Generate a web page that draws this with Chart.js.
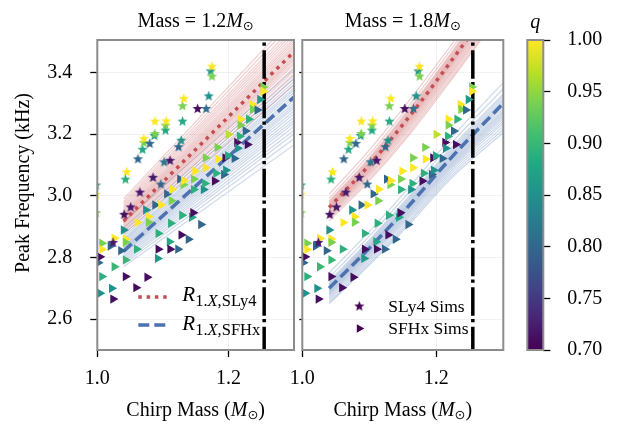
<!DOCTYPE html>
<html>
<head>
<meta charset="utf-8">
<script src="https://cdn.jsdelivr.net/npm/chart.js@4.4.1/dist/chart.umd.min.js"></script>
<style>
  html, body { margin: 0; padding: 0; background: #fff; }
  #wrap { position: relative; width: 618px; height: 424px; overflow: hidden; }
  .box { position: absolute; top: 0; height: 424px; }
  #left { left: 0; width: 300px; }
  #right { left: 270px; width: 240px; }
  #cbar { left: 500px; width: 118px; }
</style>
</head>
<body>
<div id="wrap">
  <div class="box" id="left"><canvas id="c-left"></canvas></div>
  <div class="box" id="right"><canvas id="c-right"></canvas></div>
  <div class="box" id="cbar"><canvas id="c-cbar"></canvas></div>
</div>
<script>
// ---- data ----
const FREQ_MIN = 2.5, FREQ_MAX = 3.505;
const MASS_MIN = 1.0, MASS_MAX = 1.3;
const Q_MIN = 0.70, Q_MAX = 1.00;
const xTicks = [1.0, 1.2];
const yTicks = [2.6, 2.8, 3.0, 3.2, 3.4];
const qTicks = [0.70, 0.75, 0.80, 0.85, 0.90, 0.95, 1.00];
const thresholdMass = 1.2545;

// SLy4 simulations (stars)
const slyMass = [0.998, 0.998, 0.998, 1.024, 1.041, 1.051, 1.045, 1.043, 1.062, 1.065,
  1.069, 1.071, 1.071, 1.080, 1.085, 1.087, 1.088, 1.088, 1.097, 1.102,
  1.104, 1.104, 1.105, 1.111, 1.124, 1.128, 1.130, 1.130, 1.132, 1.153,
  1.166, 1.170, 1.173, 1.175, 1.175];
const slyFreq = [3.035, 3.005, 2.945, 2.849, 2.940, 2.964, 3.078, 3.054, 3.120, 3.012,
  3.151, 3.173, 3.186, 3.170, 3.060, 3.196, 3.202, 3.242, 3.038, 3.110,
  3.213, 3.229, 3.243, 3.115, 3.159, 3.180, 3.242, 3.292, 3.316, 3.283,
  3.283, 3.324, 3.405, 3.388, 3.420];
const slyQ = [0.86, 1.00, 0.94, 0.72, 0.71, 0.72, 1.00, 0.89, 0.80, 0.72,
  0.88, 0.94, 1.00, 0.80, 0.72, 0.86, 0.94, 1.00, 0.80, 0.82,
  0.88, 0.94, 1.00, 0.72, 0.80, 0.85, 0.88, 0.94, 1.00, 0.71,
  0.81, 0.85, 0.86, 0.94, 1.00];

// SFHx simulations (triangles)
const sfhxMass = [1.0015, 1.004, 1.007, 1.007, 1.007, 1.004, 1.020, 1.022, 1.024, 1.026,
  1.026, 1.036, 1.040, 1.043, 1.043, 1.043, 1.043, 1.059, 1.061, 1.060,
  1.074, 1.076, 1.078, 1.078, 1.088, 1.092, 1.093, 1.093, 1.097, 1.106,
  1.110, 1.111, 1.112, 1.113, 1.114, 1.123, 1.126, 1.128, 1.129, 1.131,
  1.132, 1.139, 1.144, 1.146, 1.147, 1.147, 1.149, 1.158, 1.162, 1.164,
  1.165, 1.165, 1.179, 1.181, 1.183, 1.184, 1.193, 1.195, 1.196, 1.199,
  1.200, 1.209, 1.213, 1.214, 1.217, 1.218, 1.218, 1.226, 1.229, 1.231,
  1.236, 1.237, 1.244, 1.248, 1.253, 1.253];
const sfhxFreq = [2.783, 2.802, 2.846, 2.826, 2.738, 2.684, 2.837, 2.700, 2.665, 2.862,
  2.770, 2.822, 2.889, 2.792, 2.738, 2.860, 2.849, 2.702, 2.913, 2.827,
  2.954, 2.736, 2.932, 2.914, 2.970, 2.797, 2.878, 2.827, 2.970, 3.006,
  2.851, 2.827, 2.911, 2.984, 3.021, 2.827, 3.054, 2.873, 2.937, 3.036,
  3.049, 2.859, 2.930, 2.945, 3.020, 3.054, 3.080, 2.907, 3.020, 3.040,
  3.123, 3.091, 3.048, 3.073, 3.157, 3.119, 3.069, 3.123, 3.083, 3.130,
  3.199, 3.121, 3.173, 3.154, 3.193, 3.248, 3.229, 3.210, 3.166, 3.248,
  3.296, 3.280, 3.278, 3.312, 3.353, 3.339];
const sfhxQ = [0.80, 0.71, 0.94, 1.00, 0.89, 0.85, 0.80, 0.85, 0.71, 1.00,
  0.90, 0.80, 0.85, 0.90, 0.71, 1.00, 0.94, 0.71, 1.00, 0.89,
  0.85, 0.71, 1.00, 0.94, 0.80, 0.86, 0.89, 0.71, 1.00, 0.80,
  0.88, 0.71, 0.89, 0.94, 1.00, 0.80, 0.80, 0.71, 0.89, 0.94,
  1.00, 0.80, 0.88, 0.71, 0.89, 0.94, 1.00, 0.80, 0.85, 0.89,
  0.94, 1.00, 0.71, 0.89, 0.94, 1.00, 0.80, 0.71, 0.85, 0.88,
  0.97, 0.80, 0.71, 0.85, 0.89, 1.00, 0.94, 0.80, 0.71, 0.89,
  1.00, 0.94, 0.80, 0.86, 0.94, 1.00];

// Mass = 1.2 panel: fit relations (mean + sample lines)
const leftSly4X = [1.04, 1.30];
const leftSly4Center = [2.918, 3.467];
const leftSly4Lines = [[2.875, 3.360], [2.882, 3.380], [2.890, 3.395], [2.896, 3.405],
  [2.900, 3.415], [2.905, 3.425], [2.909, 3.432], [2.912, 3.440], [2.915, 3.446],
  [2.918, 3.452], [2.922, 3.458], [2.925, 3.465], [2.929, 3.472], [2.932, 3.480],
  [2.936, 3.487], [2.940, 3.495], [2.945, 3.502], [2.950, 3.510], [2.956, 3.520],
  [2.962, 3.530], [2.968, 3.540], [2.975, 3.550], [2.982, 3.565], [2.990, 3.580]];
const leftSfhxX = [1.04, 1.30];
const leftSfhxCenter = [2.820, 3.320];
const leftSfhxLines = [[2.770, 3.165], [2.778, 3.185], [2.785, 3.200], [2.792, 3.212],
  [2.798, 3.225], [2.804, 3.236], [2.810, 3.245], [2.814, 3.255], [2.818, 3.265],
  [2.822, 3.275], [2.825, 3.285], [2.829, 3.292], [2.832, 3.300], [2.836, 3.309],
  [2.840, 3.318], [2.845, 3.326], [2.850, 3.335], [2.855, 3.343], [2.860, 3.350],
  [2.867, 3.360], [2.875, 3.370], [2.885, 3.380], [2.895, 3.390], [2.915, 3.410]];

// Mass = 1.8 panel
const rightSly4X = [1.04, 1.10, 1.16, 1.22, 1.28];
const rightSly4Center = [2.962, 3.100, 3.258, 3.430, 3.610];
const rightSly4Lines = [
  [2.918, 3.048, 3.198, 3.368, 3.545], [2.925, 3.055, 3.205, 3.375, 3.550],
  [2.930, 3.062, 3.213, 3.383, 3.558], [2.935, 3.068, 3.220, 3.390, 3.565],
  [2.939, 3.073, 3.226, 3.396, 3.572], [2.942, 3.078, 3.232, 3.402, 3.578],
  [2.946, 3.082, 3.237, 3.408, 3.584], [2.950, 3.086, 3.242, 3.413, 3.590],
  [2.953, 3.090, 3.246, 3.418, 3.595], [2.956, 3.093, 3.250, 3.422, 3.600],
  [2.959, 3.097, 3.254, 3.426, 3.605], [2.962, 3.100, 3.258, 3.430, 3.610],
  [2.965, 3.104, 3.262, 3.434, 3.615], [2.968, 3.107, 3.266, 3.438, 3.620],
  [2.972, 3.111, 3.270, 3.442, 3.625], [2.975, 3.115, 3.275, 3.447, 3.630],
  [2.979, 3.119, 3.279, 3.452, 3.635], [2.983, 3.124, 3.284, 3.457, 3.640],
  [2.992, 3.134, 3.295, 3.468, 3.650], [3.005, 3.148, 3.310, 3.482, 3.660]];
const rightSfhxX = [1.04, 1.10, 1.16, 1.22, 1.30];
const rightSfhxCenter = [2.700, 2.830, 2.970, 3.118, 3.300];
const rightSfhxLines = [
  [2.650, 2.775, 2.908, 3.052, 3.205], [2.655, 2.780, 2.915, 3.060, 3.215],
  [2.662, 2.787, 2.922, 3.068, 3.225], [2.668, 2.794, 2.930, 3.075, 3.235],
  [2.673, 2.800, 2.936, 3.082, 3.243], [2.678, 2.805, 2.942, 3.088, 3.250],
  [2.682, 2.810, 2.947, 3.093, 3.257], [2.686, 2.814, 2.952, 3.098, 3.263],
  [2.690, 2.818, 2.957, 3.103, 3.269], [2.693, 2.822, 2.961, 3.108, 3.275],
  [2.697, 2.826, 2.966, 3.113, 3.282], [2.700, 2.830, 2.970, 3.118, 3.290],
  [2.704, 2.834, 2.975, 3.123, 3.296], [2.707, 2.838, 2.979, 3.128, 3.302],
  [2.711, 2.842, 2.984, 3.133, 3.309], [2.715, 2.847, 2.989, 3.139, 3.316],
  [2.719, 2.852, 2.994, 3.145, 3.323], [2.724, 2.857, 3.000, 3.151, 3.330],
  [2.735, 2.869, 3.013, 3.165, 3.347], [2.750, 2.884, 3.029, 3.182, 3.367]];

// ---- styling ----
const SERIF = '"Liberation Serif", "DejaVu Serif", serif';
const RED = "#c44e52", BLUE = "#4c72b0";
const RED_BAND = "rgba(196,78,82,0.28)", BLUE_BAND = "rgba(76,114,176,0.28)";
const FRAME = "#8c8c8c";
const VIRIDIS = ["#440154", "#482475", "#414487", "#355f8d", "#2a788e", "#21918c",
  "#22a884", "#44bf70", "#7ad151", "#bddf26", "#fde725"];

Chart.defaults.font.family = SERIF;
Chart.defaults.font.size = 20;
Chart.defaults.color = "#000";
Chart.defaults.animation = false;

function hexRgb(h) { return [1, 3, 5].map((i) => parseInt(h.slice(i, i + 2), 16)); }
function viridis(t) {
  t = Math.min(1, Math.max(0, t)) * (VIRIDIS.length - 1);
  const i = Math.min(VIRIDIS.length - 2, Math.floor(t)), f = t - i;
  const a = hexRgb(VIRIDIS[i]), b = hexRgb(VIRIDIS[i + 1]);
  return `rgb(${a.map((v, k) => Math.round(v + (b[k] - v) * f)).join(",")})`;
}
const qColor = (q) => viridis((q - Q_MIN) / (Q_MAX - Q_MIN));

const starCache = {};
function starImage(color) {   // 实心五角星,Chart.js 自带的 star 只是线条
  if (starCache[color]) return starCache[color];
  const s = 13, c = document.createElement("canvas");
  c.width = c.height = s;
  const g = c.getContext("2d");
  g.fillStyle = color; g.beginPath();
  for (let k = 0; k < 10; k++) {
    const r = k % 2 ? 2.3 : 5.4, a = -Math.PI / 2 + k * Math.PI / 5;
    g.lineTo(s / 2 + r * Math.cos(a), s / 2 + 0.4 + r * Math.sin(a));
  }
  g.closePath(); g.fill();
  return (starCache[color] = c);
}

function drawRich(ctx, parts, x, y, align) {
  let w = 0;
  for (const p of parts) { ctx.font = p.font; w += ctx.measureText(p.t).width; }
  let cx = align === "center" ? x - w / 2 : align === "right" ? x - w : x;
  ctx.textAlign = "left"; ctx.textBaseline = "alphabetic";
  for (const p of parts) {
    ctx.font = p.font;
    ctx.fillText(p.t, cx, y + (p.dy || 0));
    cx += ctx.measureText(p.t).width;
  }
}
const F = (px, style = "") => `${style} ${px}px ${SERIF}`.trim();
const SUN = (px) => `${px}px "DejaVu Sans"`;

// ---- datasets ----
function simsSets() {
  return [
    { type: "scatter", label: "SLy4 Sims", order: 0, clip: 0,
      data: slyMass.map((m, i) => ({ x: m, y: slyFreq[i] })),
      pointStyle: slyQ.map((q) => starImage(qColor(q))),
      backgroundColor: slyQ.map(qColor), pointRadius: 5 },
    { type: "scatter", label: "SFHx Sims", order: 0, clip: 0,
      data: sfhxMass.map((m, i) => ({ x: m, y: sfhxFreq[i] })),
      pointStyle: "triangle", rotation: 90, pointRadius: 5.4, borderWidth: 0,
      backgroundColor: sfhxQ.map(qColor) },
  ];
}
function lineSet(xs, ys, color, width, dash, order, curved) {
  return { type: "line", order, clip: 0, data: xs.map((x, i) => ({ x, y: ys[i] })),
    borderColor: color, borderWidth: width, borderDash: dash || [], pointRadius: 0,
    borderCapStyle: "butt", cubicInterpolationMode: curved ? "monotone" : "default", tension: 0 };
}
function thresholdSet() {
  return { type: "line", order: 1, clip: 0,
    data: [{ x: thresholdMass, y: FREQ_MAX }, { x: thresholdMass, y: FREQ_MIN }],
    borderColor: "#000", borderWidth: 3.5, borderDash: [28.4, 3.2, 3.4, 4.5],
    borderDashOffset: 29.2, pointRadius: 0, borderCapStyle: "butt" };
}

function panelPlugin(massLabel, legendFn, yTitle) {
  return {
    id: "panelText",
    afterDraw(chart) {
      const { ctx, chartArea: a } = chart;
      ctx.save();
      ctx.setLineDash([]);
      ctx.strokeStyle = FRAME; ctx.lineWidth = 2;
      ctx.strokeRect(a.left, a.top, a.right - a.left, a.bottom - a.top);
      ctx.fillStyle = "#000";
      const cx = (a.left + a.right) / 2;
      drawRich(ctx, [{ t: "Mass = " + massLabel, font: F(20) }, { t: "M", font: F(20, "italic") },
        { t: "⊙", font: SUN(13), dy: 3 }], cx, a.top - 13.5, "center");
      drawRich(ctx, [{ t: "Chirp Mass (", font: F(20) }, { t: "M", font: F(20, "italic") },
        { t: "⊙", font: SUN(13), dy: 3 }, { t: ")", font: F(20) }], cx, a.bottom + 66, "center");
      if (yTitle) {
        ctx.translate(24, 183); ctx.rotate(-Math.PI / 2);
        ctx.font = F(20); ctx.textAlign = "center"; ctx.textBaseline = "middle";
        ctx.fillText(yTitle, 0, 0);
        ctx.setTransform(1, 0, 0, 1, 0, 0);
      }
      legendFn(ctx, a);
      ctx.restore();
    },
  };
}

function fitLegend(ctx, a) {
  const x0 = a.left + 41, x1 = a.left + 70, tx = a.left + 85;
  ctx.lineWidth = 3.5; ctx.lineCap = "butt";
  ctx.strokeStyle = RED; ctx.setLineDash([3.5, 4.8]);
  ctx.beginPath(); ctx.moveTo(x0, a.top + 257); ctx.lineTo(x1, a.top + 257); ctx.stroke();
  ctx.strokeStyle = BLUE; ctx.setLineDash([11, 5]);
  ctx.beginPath(); ctx.moveTo(x0, a.top + 285); ctx.lineTo(x1, a.top + 285); ctx.stroke();
  ctx.setLineDash([]);
  const sub = (eos) => [{ t: "R", font: F(21, "italic") }, { t: "1.", font: F(16.5), dy: 5 },
    { t: "X", font: F(16.5, "italic"), dy: 5 }, { t: ",", font: F(16.5), dy: 5 }, { t: eos, font: F(16.5), dy: 5 }];
  drawRich(ctx, sub("SLy4"), tx, a.top + 261, "left");
  drawRich(ctx, sub("SFHx"), tx, a.top + 290, "left");
}

function simsLegend(ctx, a) {
  const mx = a.left + 57, tx = a.left + 86;
  const purple = qColor(Q_MIN);
  const img = starImage(purple);
  ctx.drawImage(img, mx - img.width / 2, a.top + 266 - img.height / 2);
  ctx.fillStyle = purple;
  Chart.helpers.drawPoint(ctx, { pointStyle: "triangle", radius: 5, rotation: 90, borderWidth: 0 }, mx, a.top + 288.5);
  ctx.fillStyle = "#000";
  drawRich(ctx, [{ t: "SLy4 Sims", font: F(17.5) }], tx, a.top + 271.5, "left");
  drawRich(ctx, [{ t: "SFHx Sims", font: F(17.5) }], tx, a.top + 294, "left");
}

function panelScales(yAxisWidth, showYLabels) {
  const grid = { color: "rgba(0,0,0,0.05)", lineWidth: 1, tickColor: "#000", tickWidth: 1.3, tickLength: 7 };
  return {
    x: { type: "linear", min: MASS_MIN, max: MASS_MAX,
      afterBuildTicks: (s) => { s.ticks = xTicks.map((v) => ({ value: v })); },
      afterFit: (s) => { s.height = 74; s.paddingLeft = 0; s.paddingRight = 0; },
      ticks: { padding: 10, maxRotation: 0, callback: (v) => v.toFixed(1) },
      grid, border: { display: false } },
    y: { type: "linear", min: FREQ_MIN, max: FREQ_MAX,
      afterBuildTicks: (s) => { s.ticks = yTicks.map((v) => ({ value: v })); },
      afterFit: (s) => { s.width = yAxisWidth; s.paddingTop = 0; s.paddingBottom = 0; },
      ticks: { display: showYLabels, padding: 18, callback: (v) => v.toFixed(1) },
      grid: showYLabels ? grid : { ...grid, tickLength: 3 }, border: { display: false } },
  };
}

function makePanel(id, cfg) {
  const datasets = [
    ...simsSets(),
    thresholdSet(),
    lineSet(cfg.slyX, cfg.slyCenter, RED, 3.5, [3.5, 4.8], 2, cfg.curved),
    lineSet(cfg.sfhxX, cfg.sfhxCenter, BLUE, 3.5, [11, 5], 2, cfg.curved),
    ...cfg.slyLines.map((l) => lineSet(cfg.slyX, l, RED_BAND, 1.2, null, 3, cfg.curved)),
    ...cfg.sfhxLines.map((l) => lineSet(cfg.sfhxX, l, BLUE_BAND, 1.2, null, 3, cfg.curved)),
  ];
  return new Chart(document.getElementById(id), {
    type: "scatter",
    data: { datasets },
    options: {
      responsive: true, maintainAspectRatio: false, devicePixelRatio: 1,
      layout: { padding: cfg.padding },
      plugins: { legend: { display: false }, tooltip: { enabled: false } },
      scales: panelScales(cfg.yAxisWidth, cfg.showYLabels),
    },
    plugins: [panelPlugin(cfg.massLabel, cfg.legend, cfg.yTitle)],
  });
}

makePanel("c-left", {
  massLabel: "1.2", yTitle: "Peak Frequency (kHz)", showYLabels: true, yAxisWidth: 97.3,
  padding: { left: 0, top: 40, right: 1, bottom: 0 }, curved: false, legend: fitLegend,
  slyX: leftSly4X, slyCenter: leftSly4Center, slyLines: leftSly4Lines,
  sfhxX: leftSfhxX, sfhxCenter: leftSfhxCenter, sfhxLines: leftSfhxLines,
});
makePanel("c-right", {
  massLabel: "1.8", yTitle: null, showYLabels: false, yAxisWidth: 32.3,
  padding: { left: 0, top: 40, right: 6.7, bottom: 0 }, curved: true, legend: simsLegend,
  slyX: rightSly4X, slyCenter: rightSly4Center, slyLines: rightSly4Lines,
  sfhxX: rightSfhxX, sfhxCenter: rightSfhxCenter, sfhxLines: rightSfhxLines,
});

// ---- colorbar ----
new Chart(document.getElementById("c-cbar"), {
  type: "bar",
  data: { labels: ["q"], datasets: [{
    data: [[Q_MIN, Q_MAX]], borderWidth: 0, borderSkipped: false,
    barPercentage: 1, categoryPercentage: 1,
    backgroundColor: (c) => {
      const a = c.chart.chartArea;
      if (!a) return VIRIDIS[5];
      const g = c.chart.ctx.createLinearGradient(0, a.bottom, 0, a.top);
      VIRIDIS.forEach((col, i) => g.addColorStop(i / (VIRIDIS.length - 1), col));
      return g;
    },
  }] },
  options: {
    responsive: true, maintainAspectRatio: false, devicePixelRatio: 1,
    layout: { padding: { left: 27.3, top: 40, right: 0, bottom: 74 } },
    plugins: { legend: { display: false }, tooltip: { enabled: false } },
    scales: {
      x: { display: false },
      y: { position: "right", min: Q_MIN, max: Q_MAX,
        afterBuildTicks: (s) => { s.ticks = qTicks.map((v) => ({ value: v })); },
        afterFit: (s) => { s.width = 74.7; s.paddingTop = 0; s.paddingBottom = 0; },
        ticks: { padding: 17, callback: (v) => v.toFixed(2) },
        grid: { drawOnChartArea: false, tickColor: "#000", tickWidth: 1.3, tickLength: 7 },
        border: { display: false } },
    },
  },
  plugins: [{
    id: "cbarFrame",
    afterDraw(chart) {
      const { ctx, chartArea: a } = chart;
      ctx.save();
      ctx.strokeStyle = FRAME; ctx.lineWidth = 2;
      ctx.strokeRect(a.left, a.top, a.right - a.left, a.bottom - a.top);
      ctx.fillStyle = "#000"; ctx.font = F(20, "italic");
      ctx.textAlign = "center"; ctx.textBaseline = "alphabetic";
      ctx.fillText("q", (a.left + a.right) / 2, a.top - 12);
      ctx.restore();
    },
  }],
});
</script>
</body>
</html>
